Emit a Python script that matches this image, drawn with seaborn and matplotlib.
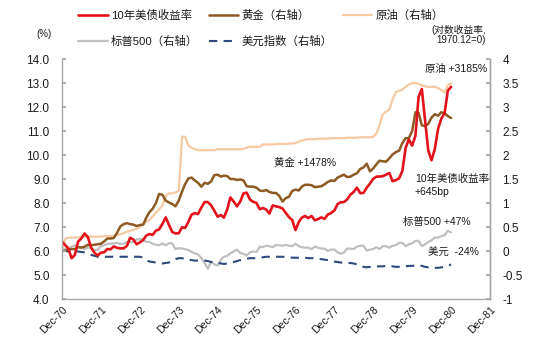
import matplotlib
matplotlib.use("Agg")
import matplotlib.pyplot as plt
import seaborn as sns
import pandas as pd
import numpy as np

# ---------------- data (monthly, Dec-1970 .. Dec-1980) ----------------
us10y = [6.39,
         6.24, 6.11, 5.70, 5.83, 6.39, 6.52, 6.73, 6.58, 6.14, 5.93, 5.81, 5.93,
         5.95, 6.08, 6.07, 6.19, 6.13, 6.11, 6.11, 6.21, 6.55, 6.48, 6.28, 6.36,
         6.46, 6.64, 6.71, 6.67, 6.85, 6.90, 7.13, 7.40, 7.09, 6.79, 6.73, 6.74,
         6.99, 6.96, 7.21, 7.51, 7.58, 7.54, 7.81, 8.04, 8.04, 7.90, 7.68, 7.43,
         7.50, 7.39, 7.73, 8.23, 8.06, 7.86, 8.06, 8.40, 8.43, 8.14, 8.05, 8.00,
         7.74, 7.79, 7.73, 7.56, 7.90, 7.86, 7.83, 7.77, 7.59, 7.41, 7.29, 6.87,
         7.21, 7.39, 7.46, 7.37, 7.46, 7.28, 7.33, 7.40, 7.34, 7.52, 7.58, 7.69,
         7.96, 8.03, 8.04, 8.15, 8.35, 8.46, 8.64, 8.41, 8.42, 8.64, 8.81, 9.01,
         9.10, 9.10, 9.12, 9.18, 9.25, 8.91, 8.95, 9.03, 9.33, 10.30, 10.65, 10.39,
         10.80, 12.41, 12.75, 11.47, 10.18, 9.78, 10.25, 11.10, 11.51, 11.75, 12.68, 12.84]

gold = [0.0,
        0.01, 0.03, 0.04, 0.04, 0.08, 0.07, 0.09, 0.13, 0.12, 0.13, 0.14, 0.15,
        0.20, 0.26, 0.26, 0.27, 0.38, 0.51, 0.56, 0.58, 0.56, 0.55, 0.52, 0.54,
        0.55, 0.69, 0.81, 0.88, 1.00, 1.19, 1.17, 1.05, 1.01, 0.98, 0.93, 1.05,
        1.24, 1.39, 1.51, 1.53, 1.47, 1.42, 1.34, 1.42, 1.40, 1.45, 1.58, 1.59,
        1.55, 1.57, 1.56, 1.50, 1.50, 1.48, 1.49, 1.47, 1.35, 1.34, 1.34, 1.32,
        1.26, 1.25, 1.27, 1.23, 1.21, 1.21, 1.15, 1.03, 1.10, 1.13, 1.25, 1.28,
        1.26, 1.34, 1.38, 1.38, 1.37, 1.33, 1.34, 1.35, 1.39, 1.44, 1.47, 1.46,
        1.53, 1.56, 1.59, 1.54, 1.55, 1.59, 1.62, 1.71, 1.74, 1.82, 1.66, 1.72,
        1.81, 1.88, 1.87, 1.86, 1.93, 2.01, 2.06, 2.09, 2.25, 2.35, 2.35, 2.50,
        2.89, 2.88, 2.62, 2.60, 2.65, 2.78, 2.85, 2.82, 2.89, 2.87, 2.81, 2.77]

oil = [0.0,
       0.25, 0.28, 0.28, 0.28, 0.28, 0.30, 0.30, 0.30, 0.30, 0.30, 0.30, 0.30,
       0.31, 0.31, 0.31, 0.31, 0.33, 0.35, 0.37, 0.40, 0.42, 0.44, 0.46, 0.50,
       0.55, 0.60, 0.65, 0.72, 0.80, 0.87, 0.95, 1.15, 1.20, 1.20, 1.22, 1.25,
       2.38, 2.38, 2.20, 2.15, 2.12, 2.10, 2.10, 2.10, 2.10, 2.10, 2.10, 2.12,
       2.12, 2.12, 2.12, 2.12, 2.12, 2.12, 2.12, 2.13, 2.15, 2.17, 2.17, 2.17,
       2.17, 2.22, 2.22, 2.22, 2.22, 2.23, 2.23, 2.23, 2.23, 2.24, 2.24, 2.25,
       2.28, 2.30, 2.32, 2.33, 2.33, 2.33, 2.34, 2.34, 2.34, 2.34, 2.35, 2.35,
       2.35, 2.35, 2.35, 2.36, 2.36, 2.36, 2.36, 2.37, 2.37, 2.37, 2.37, 2.38,
       2.45, 2.62, 2.85, 2.90, 2.95, 3.15, 3.31, 3.34, 3.36, 3.42, 3.47, 3.50,
       3.50, 3.48, 3.45, 3.43, 3.42, 3.42, 3.42, 3.40, 3.35, 3.30, 3.45, 3.49]

spx = [0.0,
       0.04, 0.05, 0.09, 0.12, 0.08, 0.07, 0.04, 0.07, 0.07, 0.02, 0.02, 0.10,
       0.12, 0.15, 0.15, 0.16, 0.17, 0.15, 0.15, 0.19, 0.18, 0.19, 0.24, 0.25,
       0.23, 0.19, 0.19, 0.15, 0.13, 0.12, 0.16, 0.12, 0.16, 0.16, 0.04, 0.06,
       0.05, 0.04, 0.02, -0.02, -0.05, -0.07, -0.15, -0.25, -0.37, -0.22, -0.28, -0.30,
       -0.18, -0.12, -0.10, -0.05, -0.01, 0.03, -0.04, -0.06, -0.09, -0.03, -0.01, -0.02,
       0.09, 0.08, 0.11, 0.10, 0.08, 0.12, 0.12, 0.11, 0.13, 0.11, 0.10, 0.15,
       0.10, 0.08, 0.07, 0.07, 0.04, 0.09, 0.07, 0.05, 0.05, 0.00, 0.03, 0.03,
       -0.03, -0.06, -0.03, 0.05, 0.05, 0.04, 0.09, 0.11, 0.11, 0.01, 0.03, 0.04,
       0.08, 0.04, 0.10, 0.10, 0.07, 0.11, 0.12, 0.17, 0.17, 0.10, 0.14, 0.16,
       0.21, 0.21, 0.10, 0.14, 0.19, 0.22, 0.28, 0.28, 0.31, 0.33, 0.42, 0.39]

usd = [0.0,
       0.00, -0.01, -0.01, -0.01, -0.01, -0.02, -0.03, -0.05, -0.08, -0.10, -0.12, -0.12,
       -0.12, -0.12, -0.12, -0.12, -0.12, -0.12, -0.12, -0.12, -0.12, -0.12, -0.12, -0.12,
       -0.14, -0.19, -0.22, -0.23, -0.24, -0.25, -0.26, -0.25, -0.24, -0.21, -0.17, -0.15,
       -0.15, -0.16, -0.18, -0.19, -0.20, -0.20, -0.20, -0.20, -0.21, -0.23, -0.24, -0.25,
       -0.26, -0.27, -0.26, -0.24, -0.23, -0.21, -0.19, -0.17, -0.16, -0.15, -0.15, -0.15,
       -0.14, -0.13, -0.12, -0.12, -0.12, -0.12, -0.12, -0.12, -0.13, -0.13, -0.14, -0.14,
       -0.14, -0.14, -0.14, -0.15, -0.15, -0.15, -0.16, -0.17, -0.18, -0.19, -0.20, -0.22,
       -0.23, -0.24, -0.25, -0.25, -0.25, -0.26, -0.28, -0.31, -0.33, -0.34, -0.33, -0.33,
       -0.32, -0.32, -0.32, -0.31, -0.31, -0.32, -0.33, -0.33, -0.33, -0.32, -0.31, -0.31,
       -0.30, -0.30, -0.31, -0.33, -0.34, -0.34, -0.35, -0.35, -0.34, -0.33, -0.31, -0.28]

dates = pd.date_range("1970-12-31", periods=len(us10y), freq="ME")
tick_years = list(range(1970, 1982))
tick_labels = [f"Dec-{y % 100:02d}" for y in tick_years]

names = ["10年美债收益率", "黄金（右轴）", "原油（右轴）", "标普500（右轴）", "美元指数（右轴）"]

df = pd.DataFrame({"date": dates, "us10y": us10y, "gold": gold, "oil": oil,
                   "spx": spx, "usd": usd})

# ---------------- style ----------------
sns.set_theme(style="white")
plt.rcParams["font.family"] = ["Liberation Sans", "Noto Sans CJK SC", "DejaVu Sans"]

C_RED = "#E3121B"
C_GOLD = "#8C5A22"
C_OIL = "#F6C9A2"
C_SPX = "#BFBFBF"
C_USD = "#2E4A7D"
TXT = "#1A1A1A"

fig = plt.figure(figsize=(5.58, 3.60), dpi=100)
ax = fig.add_axes([62 / 558, 1 - 299 / 360, (490 - 62) / 558, (299 - 59) / 360])
ax2 = ax.twinx()

sns.lineplot(data=df, x="date", y="oil", ax=ax2, color=C_OIL, lw=1.6, label=names[2], legend=False)
sns.lineplot(data=df, x="date", y="spx", ax=ax2, color=C_SPX, lw=1.6, label=names[3], legend=False)
sns.lineplot(data=df, x="date", y="usd", ax=ax2, color=C_USD, lw=1.5, label=names[4], legend=False,
             dashes=False, linestyle=(0, (4, 3)))
sns.lineplot(data=df, x="date", y="gold", ax=ax2, color=C_GOLD, lw=1.8, label=names[1], legend=False)
sns.lineplot(data=df, x="date", y="us10y", ax=ax, color=C_RED, lw=1.9, label=names[0], legend=False)

ax.set_zorder(ax2.get_zorder() + 1)
ax.patch.set_visible(False)

xmin = pd.Timestamp("1970-12-31")
xmax = pd.Timestamp("1981-12-31")
ax.set_xlim(xmin, xmax)
ax.set_ylim(4, 14)
ax2.set_ylim(-1, 4)

lt = np.arange(4, 14.01, 1.0)
ax.set_yticks(lt)
ax.set_yticklabels([f"{v:.1f}" for v in lt])
rt = np.arange(-1, 4.01, 0.5)
ax2.set_yticks(rt)
ax2.set_yticklabels([f"{v:g}" for v in rt])

ax.set_xticks([pd.Timestamp(f"{y}-12-31") for y in tick_years])
ax.set_xticklabels(tick_labels, rotation=45, ha="right", rotation_mode="anchor")

for a in (ax, ax2):
    a.set_xlabel("")
    a.set_ylabel("")
    a.grid(False)
    for s in a.spines.values():
        s.set_color("#A6A6A6")
        s.set_linewidth(1.0)
    a.spines["top"].set_visible(False)

ax.tick_params(axis="y", direction="in", length=3, color="#A6A6A6", labelsize=8.5,
               pad=9, labelcolor=TXT)
ax.tick_params(axis="x", direction="in", length=3, color="#A6A6A6", labelsize=7.5,
               pad=4, labelcolor=TXT)
ax2.tick_params(axis="y", direction="in", length=3, color="#A6A6A6", labelsize=8.5,
                pad=9, labelcolor=TXT)
ax2.spines["left"].set_visible(False)
ax2.spines["bottom"].set_visible(False)

# ---------------- legend ----------------
h1, l1 = ax.get_legend_handles_labels()
h2, l2 = ax2.get_legend_handles_labels()
hd = dict(zip(l1 + l2, h1 + h2))
order = [names[0], names[3], names[1], names[4], names[2]]
fig.legend([hd[n] for n in order], order, loc="upper left",
           bbox_to_anchor=(78 / 558, 1 - 10 / 360), ncol=3, frameon=False,
           fontsize=8.2, handlelength=2.6, handletextpad=0.3, columnspacing=0.9,
           labelspacing=1.3, borderpad=0, borderaxespad=0, labelcolor=TXT)

# ---------------- texts ----------------
fig.text(44 / 558, 1 - 34 / 360, "(%)", fontsize=7, ha="center", va="center", color=TXT)
fig.text(486 / 558, 1 - 30 / 360, "(对数收益率,", fontsize=7, ha="right", va="center", color=TXT)
fig.text(486 / 558, 1 - 40 / 360, "1970.12=0)", fontsize=7, ha="right", va="center", color=TXT)

tk = dict(fontsize=7.5, color=TXT, va="center")
fig.text(425 / 558, 1 - 69 / 360, "原油 +3185%", ha="left", **tk)
fig.text(274 / 558, 1 - 163 / 360, "黄金 +1478%", ha="left", **tk)
fig.text(415 / 558, 1 - 179 / 360, "10年美债收益率", ha="left", **tk)
fig.text(415 / 558, 1 - 192 / 360, "+645bp", ha="left", **tk)
fig.text(403 / 558, 1 - 222 / 360, "标普500 +47%", ha="left", **tk)
fig.text(428 / 558, 1 - 253 / 360, "美元  -24%", ha="left", **tk)

fig.savefig("out.png", dpi=100)
